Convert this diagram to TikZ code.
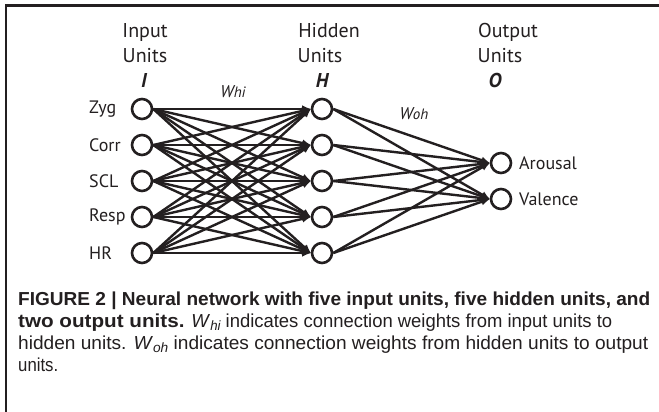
\documentclass[tikz,border=0pt]{standalone}
\usepackage{fontspec}
\usepackage{graphicx}
\setmainfont{PT Sans}
\newfontfamily\capfont{Liberation Sans}
\newfontfamily\capbold[FakeStretch=1.12]{Liberation Sans Bold}
\usetikzlibrary{arrows.meta}
\definecolor{ink}{HTML}{231F20}
\newcommand{\capsub}[1]{\raisebox{-0.35ex}{\fontsize{13.5}{14}\selectfont\itshape #1}}
\newcommand{\capline}[2]{\resizebox{#1}{\height}{#2}}
\begin{document}
\begin{tikzpicture}[x=1pt,y=-1pt,
  unit/.style={circle, draw=ink, line width=2.6pt, minimum size=20pt, inner sep=0pt, fill=white},
  lbl/.style={font=\fontsize{18}{20}\selectfont, text=ink, inner sep=0pt},
  head/.style={font=\fontsize{20}{22}\selectfont, text=ink, inner sep=0pt, anchor=base},
  sym/.style={font=\fontsize{20}{22}\selectfont\bfseries\itshape, text=ink, inner sep=0pt, anchor=base},
  wlab/.style={font=\fontsize{17}{18}\selectfont\itshape, text=ink, inner sep=0pt, anchor=base},
  conn/.style={draw=ink, line width=2.4pt, -{Latex[length=9pt,width=7.5pt]}, shorten >=-0.5pt},
  capnode/.style={font=\capfont\fontsize{18.8}{20}\selectfont, text=ink, inner sep=0pt, anchor=base west}]
\useasboundingbox (0,0) rectangle (659,412);
\fill[white] (0,0) rectangle (659,412);
\draw[ink, line width=2.6pt, line join=miter] (659,5.5) -- (6,5.5) -- (6,412);
% headers
\node[head] (hin1) at (145,38) {Input};
\node[head] (hin2) at (145,63) {Units};
\node[sym]  (hin3) at (144,88) {I};
\node[head] (hhd1) at (329,38) {Hidden};
\node[head] (hhd2) at (320,63) {Units};
\node[sym]  (hhd3) at (322,88) {H};
\node[head] (hou1) at (508,38) {Output};
\node[head] (hou2) at (500,63) {Units};
\node[sym]  (hou3) at (495,88) {O};
\node[wlab] (whi) at (233,98) {W\fontsize{15}{16}\selectfont hi};
\node[wlab] (woh) at (414,120) {W\fontsize{15}{16}\selectfont oh};
% units
\foreach \n/\y/\t in {1/109/Zyg, 2/145/Corr, 3/181/SCL, 4/217/Resp, 5/253/HR} {
  \node[unit] (i\n) at (142,\y) {};
  \node[lbl, anchor=west] (li\n) at (89,\y) {\t};
  \node[unit] (h\n) at (322,\y) {};
}
\node[unit] (o1) at (501,163) {};
\node[unit] (o2) at (501,199) {};
\node[lbl, anchor=west] (lo1) at (519,163) {Arousal};
\node[lbl, anchor=west] (lo2) at (519,199) {Valence};
% connections
\foreach \a in {1,...,5} {
  \foreach \b in {1,...,5} {
    \draw[conn] (i\a.east) -- (h\b.west);
  }
  \foreach \b in {1,2} {
    \draw[conn] (h\a.east) -- (o\b.west);
  }
}
% caption
\node[capnode] (c1) at (18,305) {\capline{632pt}{\capbold FIGURE 2 | Neural network with five input units, five hidden units, and}};
\node[capnode] (c2) at (18,327) {\capline{594pt}{{\capbold two output units.} \textit{W}\capsub{hi} indicates connection weights from input units to}};
\node[capnode] (c3) at (18,349) {\capline{630pt}{hidden units. \textit{W}\capsub{oh} indicates connection weights from hidden units to output}};
\node[capnode] (c4) at (18,371) {\capline{40pt}{units.}};
\end{tikzpicture}
\end{document}
